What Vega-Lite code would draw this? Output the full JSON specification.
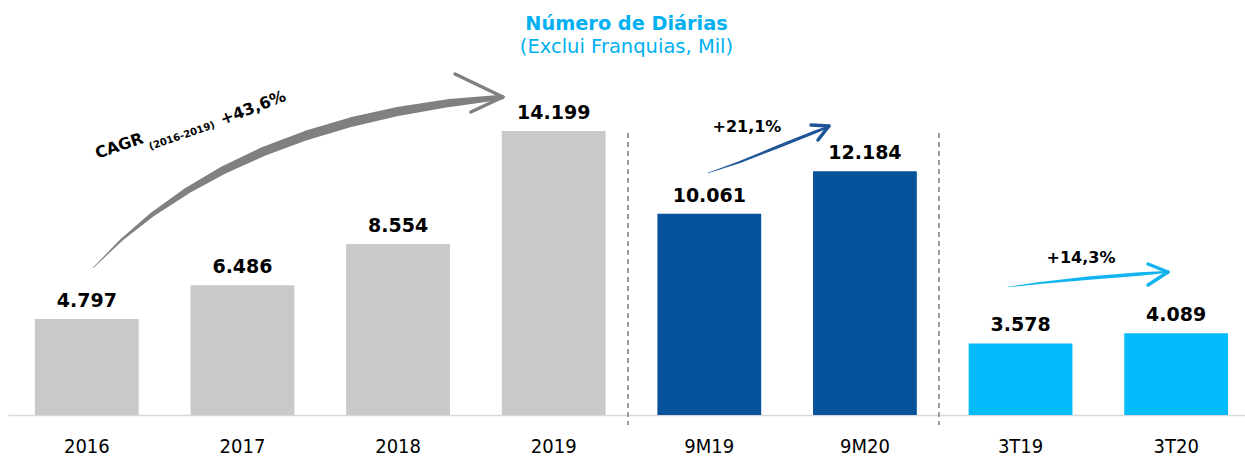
{
  "$schema": "https://vega.github.io/schema/vega-lite/v6.json",
  "width": 1237,
  "height": 355,
  "autosize": "none",
  "padding": {"left": 8, "top": 60, "right": 0, "bottom": 43},
  "background": "white",
  "config": {"view": {"stroke": null}},
  "title": {
    "text": "Número de Diárias",
    "subtitle": "(Exclui Franquias, Mil)",
    "anchor": "middle",
    "frame": "group",
    "font": "DejaVu Sans",
    "fontSize": 19.3,
    "fontWeight": "bold",
    "color": "#00B0F0",
    "subtitleFont": "DejaVu Sans",
    "subtitleFontSize": 19.5,
    "subtitleFontWeight": "normal",
    "subtitleColor": "#00B0F0",
    "subtitlePadding": 3,
    "offset": 4
  },
  "datasets": {
    "bars": [
      {"cat": "2016", "value": 4797, "label": "4.797", "group": "ano"},
      {"cat": "2017", "value": 6486, "label": "6.486", "group": "ano"},
      {"cat": "2018", "value": 8554, "label": "8.554", "group": "ano"},
      {"cat": "2019", "value": 14199, "label": "14.199", "group": "ano"},
      {"cat": "9M19", "value": 10061, "label": "10.061", "group": "9M"},
      {"cat": "9M20", "value": 12184, "label": "12.184", "group": "9M"},
      {"cat": "3T19", "value": 3578, "label": "3.578", "group": "3T"},
      {"cat": "3T20", "value": 4089, "label": "4.089", "group": "3T"}
    ],
    "trails": [
      {"arrow": "cagr", "ord": 1, "u": 0.546, "v": 7350, "w": 0.5},
      {"arrow": "cagr", "ord": 2, "u": 0.731, "v": 8770, "w": 2.5},
      {"arrow": "cagr", "ord": 3, "u": 0.933, "v": 10060, "w": 4.5},
      {"arrow": "cagr", "ord": 4, "u": 1.153, "v": 11225, "w": 6.5},
      {"arrow": "cagr", "ord": 5, "u": 1.391, "v": 12270, "w": 8},
      {"arrow": "cagr", "ord": 6, "u": 1.645, "v": 13190, "w": 9},
      {"arrow": "cagr", "ord": 7, "u": 1.918, "v": 13980, "w": 9.5},
      {"arrow": "cagr", "ord": 8, "u": 2.207, "v": 14650, "w": 9.5},
      {"arrow": "cagr", "ord": 9, "u": 2.514, "v": 15190, "w": 9},
      {"arrow": "cagr", "ord": 10, "u": 2.839, "v": 15605, "w": 8},
      {"arrow": "cagr", "ord": 11, "u": 3.170, "v": 15890, "w": 5},
      {"arrow": "nove", "ord": 1, "u": 4.499, "v": 12100, "w": 0.5},
      {"arrow": "nove", "ord": 2, "u": 4.704, "v": 12650, "w": 2},
      {"arrow": "nove", "ord": 3, "u": 4.961, "v": 13450, "w": 3},
      {"arrow": "nove", "ord": 4, "u": 5.186, "v": 14150, "w": 3},
      {"arrow": "nove", "ord": 5, "u": 5.270, "v": 14400, "w": 2},
      {"arrow": "tres", "ord": 1, "u": 6.427, "v": 6400, "w": 0.5},
      {"arrow": "tres", "ord": 2, "u": 6.632, "v": 6600, "w": 2},
      {"arrow": "tres", "ord": 3, "u": 6.954, "v": 6850, "w": 3.5},
      {"arrow": "tres", "ord": 4, "u": 7.275, "v": 7050, "w": 3.5},
      {"arrow": "tres", "ord": 5, "u": 7.442, "v": 7150, "w": 2}
    ],
    "heads": [
      {"arrow": "cagr", "u": 2.873, "v": 17050, "u2": 3.181, "v2": 15900},
      {"arrow": "cagr", "u": 2.975, "v": 15150, "u2": 3.181, "v2": 15900},
      {"arrow": "nove", "u": 5.161, "v": 14500, "u2": 5.276, "v2": 14450},
      {"arrow": "nove", "u": 5.206, "v": 13750, "u2": 5.276, "v2": 14450},
      {"arrow": "tres", "u": 7.327, "v": 7550, "u2": 7.455, "v2": 7150},
      {"arrow": "tres", "u": 7.327, "v": 6500, "u2": 7.455, "v2": 7150}
    ],
    "notes": [
      {"text": "CAGR", "u": 0.715, "v": 13450, "size": 16, "angle": 341},
      {"text": "(2016-2019)", "u": 1.118, "v": 13950, "size": 10, "angle": 341},
      {"text": "+43,6%", "u": 1.575, "v": 15350, "size": 16, "angle": 339},
      {"text": "+21,1%", "u": 4.749, "v": 14400, "size": 16, "angle": 0},
      {"text": "+14,3%", "u": 6.896, "v": 7850, "size": 16, "angle": 0}
    ],
    "dividers": [
      {"u": 3.985, "top": 14100, "bottom": -500},
      {"u": 5.983, "top": 14100, "bottom": -500}
    ]
  },
  "resolve": {"scale": {"x": "independent", "color": "independent"}, "axis": {"x": "independent"}},
  "layer": [
    {
      "data": {"name": "bars"},
      "layer": [
        {
          "mark": {"type": "bar"},
          "encoding": {
            "x": {
              "field": "cat", "type": "nominal", "sort": null,
              "scale": {"paddingInner": 0.333, "paddingOuter": 0.141, "align": 0.614},
              "axis": {
                "title": null, "labelAngle": 0, "ticks": false, "grid": false,
                "domainColor": "#D9D9D9", "domainWidth": 1.5,
                "labelFont": "DejaVu Sans Condensed, Liberation Sans Narrow, DejaVu Sans",
                "labelFontSize": 20, "labelColor": "#000000",
                "labelPadding": 21, "labelBaseline": "top"
              }
            },
            "y": {
              "field": "value", "type": "quantitative",
              "scale": {"domain": [0, 17750], "nice": false, "zero": false},
              "axis": null
            },
            "color": {
              "field": "group", "type": "nominal",
              "scale": {"domain": ["ano", "9M", "3T"], "range": ["#C9C9C9", "#06529B", "#03BCFC"]},
              "legend": null
            }
          }
        },
        {
          "mark": {"type": "text", "font": "DejaVu Sans", "fontWeight": "bold", "fontSize": 19, "dy": -12, "baseline": "alphabetic", "align": "center", "color": "#000000"},
          "encoding": {
            "x": {"field": "cat", "type": "nominal", "sort": null},
            "y": {"field": "value", "type": "quantitative"},
            "text": {"field": "label"}
          }
        }
      ]
    },
    {
      "data": {"name": "dividers"},
      "mark": {"type": "rule", "color": "#7F7F7F", "strokeWidth": 1.5, "strokeDash": [5, 4]},
      "encoding": {
        "x": {"field": "u", "type": "quantitative", "scale": {"domain": [0, 7.95], "nice": false, "zero": false}, "axis": null},
        "y": {"field": "top", "type": "quantitative"},
        "y2": {"field": "bottom"}
      }
    },
    {
      "data": {"name": "trails"},
      "mark": {"type": "trail"},
      "encoding": {
        "x": {"field": "u", "type": "quantitative", "scale": {"domain": [0, 7.95], "nice": false, "zero": false}, "axis": null},
        "y": {"field": "v", "type": "quantitative"},
        "order": {"field": "ord"},
        "detail": {"field": "arrow"},
        "size": {"field": "w", "type": "quantitative", "scale": null, "legend": null},
        "color": {
          "field": "arrow", "type": "nominal",
          "scale": {"domain": ["cagr", "nove", "tres"], "range": ["#808080", "#1F5597", "#12B4F0"]},
          "legend": null
        }
      }
    },
    {
      "data": {"name": "heads"},
      "mark": {"type": "rule", "strokeWidth": 3.5, "strokeCap": "round"},
      "encoding": {
        "x": {"field": "u", "type": "quantitative", "scale": {"domain": [0, 7.95], "nice": false, "zero": false}, "axis": null},
        "x2": {"field": "u2"},
        "y": {"field": "v", "type": "quantitative"},
        "y2": {"field": "v2"},
        "color": {
          "field": "arrow", "type": "nominal",
          "scale": {"domain": ["cagr", "nove", "tres"], "range": ["#808080", "#1F5597", "#12B4F0"]},
          "legend": null
        }
      }
    },
    {
      "data": {"name": "notes"},
      "mark": {"type": "text", "font": "DejaVu Sans", "fontWeight": "bold", "align": "center", "baseline": "middle", "color": "#000000"},
      "encoding": {
        "x": {"field": "u", "type": "quantitative", "scale": {"domain": [0, 7.95], "nice": false, "zero": false}, "axis": null},
        "y": {"field": "v", "type": "quantitative"},
        "text": {"field": "text"},
        "size": {"field": "size", "type": "quantitative", "scale": null, "legend": null},
        "angle": {"field": "angle", "type": "quantitative", "scale": null}
      }
    }
  ]
}
